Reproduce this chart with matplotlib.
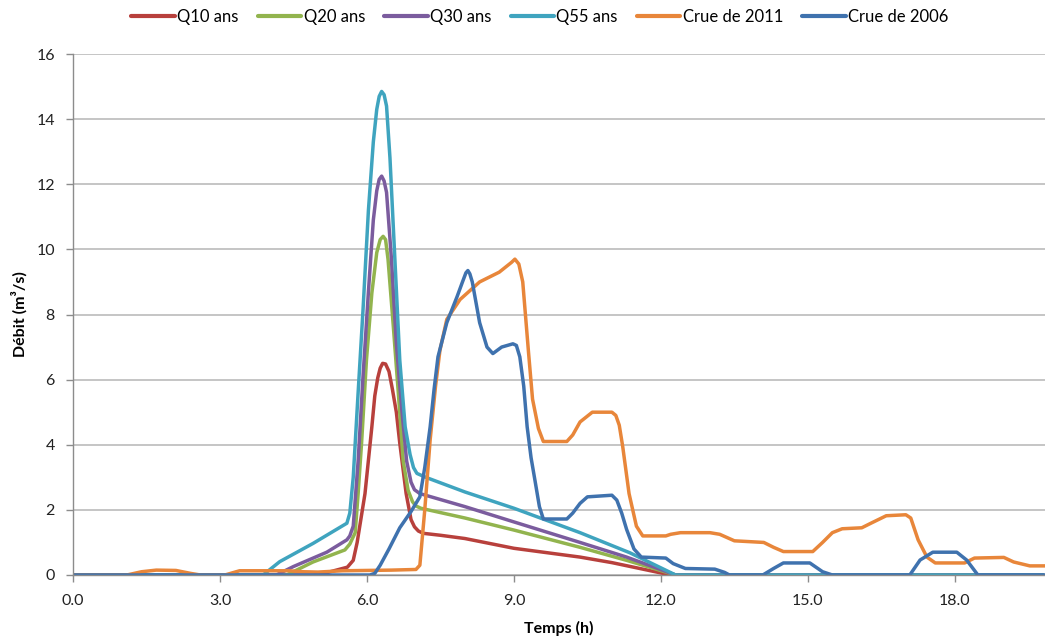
import matplotlib
matplotlib.use("Agg")
import matplotlib.pyplot as plt

plt.rcParams['font.family'] = ['Lato', 'DejaVu Sans']

# ---- data (time in hours, discharge in m3/s) ----
t_q10 = [0, 4.9, 5.2, 5.6, 5.72, 5.8, 5.96, 6.1, 6.16, 6.22, 6.27, 6.32, 6.38, 6.45, 6.52, 6.6, 6.67, 6.8, 6.9, 6.97, 7.05, 7.15, 7.5, 8.0, 9.0, 10.35, 11.0, 12.2, 19.8]
q10 = [0, 0, 0.08, 0.24, 0.45, 1.0, 2.5, 4.55, 5.5, 6.05, 6.35, 6.5, 6.48, 6.25, 5.7, 5.0, 4.05, 2.5, 1.7, 1.48, 1.35, 1.28, 1.22, 1.12, 0.82, 0.55, 0.38, 0, 0]

t_q20 = [0, 4.36, 4.9, 5.55, 5.65, 5.76, 5.82, 5.89, 5.99, 6.1, 6.2, 6.27, 6.33, 6.38, 6.43, 6.54, 6.64, 6.74, 6.84, 6.93, 7.0, 7.1, 8.0, 9.0, 10.35, 11.3, 12.3, 19.8]
q20 = [0, 0, 0.4, 0.77, 0.95, 1.3, 2.5, 4.05, 6.6, 8.66, 9.9, 10.3, 10.4, 10.3, 9.7, 7.6, 5.6, 3.5, 2.6, 2.25, 2.12, 2.05, 1.75, 1.38, 0.85, 0.45, 0, 0]

t_q30 = [0, 4.15, 4.5, 5.18, 5.59, 5.65, 5.72, 5.82, 5.92, 6.03, 6.13, 6.2, 6.25, 6.3, 6.35, 6.4, 6.5, 6.6, 6.71, 6.81, 6.9, 6.97, 7.08, 8.0, 9.0, 10.35, 11.3, 12.3, 19.8]
q30 = [0, 0, 0.26, 0.7, 1.08, 1.2, 1.5, 3.5, 6.1, 8.7, 10.9, 11.8, 12.15, 12.25, 12.1, 11.75, 9.7, 7.1, 5.1, 3.5, 2.85, 2.62, 2.5, 2.1, 1.63, 1.0, 0.55, 0, 0]

t_q55 = [0, 3.88, 4.22, 4.9, 5.59, 5.65, 5.72, 5.82, 5.92, 6.03, 6.13, 6.2, 6.25, 6.3, 6.35, 6.4, 6.47, 6.57, 6.67, 6.78, 6.88, 6.95, 7.02, 7.2, 8.0, 9.0, 10.35, 11.37, 12.3, 19.8]
q55 = [0, 0, 0.41, 0.97, 1.59, 1.9, 3.0, 5.6, 8.15, 11.2, 13.3, 14.3, 14.7, 14.85, 14.75, 14.4, 12.8, 9.7, 6.6, 4.55, 3.7, 3.3, 3.12, 3.0, 2.55, 2.05, 1.3, 0.68, 0, 0]

t_2011 = [0, 1.1, 1.4, 1.7, 2.1, 2.4, 2.6, 3.1, 3.4, 4.4, 4.7, 5.0, 5.5, 6.5, 7.0, 7.08, 7.18, 7.29, 7.4, 7.49, 7.63, 7.9, 8.3, 8.7, 8.95, 9.02, 9.1, 9.18, 9.3, 9.38, 9.5, 9.6,
          10.08, 10.2, 10.35, 10.6, 11.0, 11.08, 11.15, 11.22, 11.35, 11.5, 11.63, 12.1, 12.2, 12.4, 13.0, 13.2, 13.5, 14.1, 14.3, 14.5, 15.1, 15.3, 15.5, 15.7, 16.1,
          16.3, 16.6, 17.0, 17.1, 17.25, 17.43, 17.6, 18.2, 18.4, 19.0, 19.2, 19.53, 19.84]
q2011 = [0, 0, 0.1, 0.15, 0.14, 0.05, 0, 0, 0.13, 0.13, 0.1, 0.09, 0.13, 0.15, 0.17, 0.3, 2.0, 4.15, 5.8, 6.9, 7.85, 8.46, 9.0, 9.3, 9.6, 9.7, 9.55, 9.0, 6.8, 5.4, 4.5, 4.1,
         4.1, 4.3, 4.7, 5.0, 5.0, 4.9, 4.6, 3.95, 2.5, 1.5, 1.2, 1.2, 1.25, 1.3, 1.3, 1.25, 1.05, 1.0, 0.85, 0.72, 0.72, 1.0, 1.3, 1.42, 1.45,
         1.6, 1.82, 1.85, 1.75, 1.08, 0.55, 0.37, 0.37, 0.52, 0.54, 0.4, 0.28, 0.28]

t_2006 = [0, 6.06, 6.16, 6.27, 6.45, 6.67, 6.9, 7.08, 7.18, 7.29, 7.37, 7.45, 7.63, 7.84, 7.95, 8.02, 8.06, 8.1, 8.15, 8.3, 8.45, 8.57, 8.75, 8.98, 9.05, 9.12, 9.2, 9.27, 9.35,
          9.43, 9.52, 9.6, 10.08, 10.2, 10.35, 10.5, 11.0, 11.1, 11.2, 11.3, 11.45, 11.6, 12.1, 12.25, 12.5, 13.1, 13.3, 13.4, 14.08, 14.3, 14.5, 15.04,
          15.3, 15.5, 17.08, 17.29, 17.55, 18.04, 18.24, 18.47, 19.84]
q2006 = [0, 0, 0.05, 0.3, 0.8, 1.45, 1.95, 2.4, 3.3, 4.55, 5.7, 6.7, 7.75, 8.55, 9.0, 9.28, 9.35, 9.25, 9.0, 7.75, 7.0, 6.8, 7.0, 7.1, 7.05, 6.7, 5.8, 4.55, 3.6,
         2.9, 2.1, 1.72, 1.72, 1.9, 2.2, 2.4, 2.45, 2.3, 1.9, 1.4, 0.8, 0.55, 0.52, 0.35, 0.2, 0.18, 0.08, 0, 0, 0.2, 0.37, 0.37,
         0.1, 0, 0, 0.46, 0.7, 0.7, 0.46, 0, 0]

series_labels = ["Q10 ans", "Q20 ans", "Q30 ans", "Q55 ans", "Crue de 2011", "Crue de 2006"]
series_colors = ["#B8403C", "#92B44E", "#7B5C9E", "#3FA4BF", "#E8863A", "#3F72AE"]
x_ticks = [0.0, 3.0, 6.0, 9.0, 12.0, 15.0, 18.0]
y_ticks = [0, 2, 4, 6, 8, 10, 12, 14, 16]

series = [(t_q10, q10), (t_q20, q20), (t_q30, q30), (t_q55, q55), (t_2011, q2011), (t_2006, q2006)]

fig = plt.figure(figsize=(10.45, 6.43), dpi=100)
ax = fig.add_axes([73 / 1045, 1 - 575 / 643, 1 - 73 / 1045, (575 - 54) / 643])

for (t, q), lab, col in zip(series, series_labels, series_colors):
    ax.plot(t, q, color=col, lw=2.5, label=lab, solid_joinstyle='round', solid_capstyle='round')

ax.set_xlim(0, 19.84)
ax.set_ylim(0, 16)
ax.set_xticks(x_ticks)
ax.set_xticklabels([f"{v:.1f}" for v in x_ticks])
ax.set_yticks(y_ticks)
ax.yaxis.grid(True, color="#B5B5B5", lw=1.1)
ax.set_axisbelow(True)
for s in ["top", "right"]:
    ax.spines[s].set_visible(False)
for s in ["left", "bottom"]:
    ax.spines[s].set_color("#8C8C8C")
    ax.spines[s].set_linewidth(1.0)
ax.tick_params(axis="both", colors="#8C8C8C", labelcolor="#222222", labelsize=11.5, length=5, width=1)
ax.tick_params(axis="y", pad=8)
ax.tick_params(axis="x", pad=9)

ax.set_xlabel("Temps (h)", fontsize=11.5, fontweight="bold", labelpad=9)
ax.set_ylabel("Débit (m³/s)", fontsize=11.5, fontweight="bold", labelpad=6)

leg = fig.legend(loc="center", bbox_to_anchor=(540 / 1045, 1 - 17 / 643), ncol=6, frameon=False,
                 fontsize=12, handlelength=2.6, handletextpad=0.15, columnspacing=1.15)
for ln in leg.get_lines():
    ln.set_linewidth(3)

fig.savefig("out.png", dpi=100)
